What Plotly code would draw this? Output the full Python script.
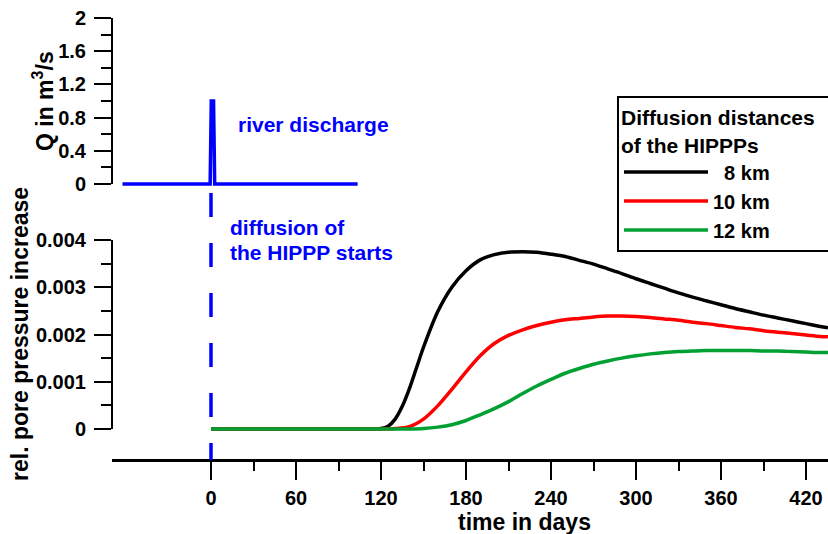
import plotly.graph_objects as go

W, H = 828, 534

# ---------------- data ----------------
q_days = [-62.5, -0.6, 0.2, 1.8, 2.6, 103.5]
q_vals = [0, 0, 1.0, 1.0, 0, 0]

days_8 = [0, 110, 115, 120, 125, 130, 135, 140, 145, 150, 160, 170, 180, 190, 200, 210, 220, 230,
          240, 250, 260, 270, 280, 290, 300, 310, 320, 330, 340, 350, 360, 370, 380, 390, 400,
          410, 420, 430, 435.5]
p_8 = [0, 0, 0, 0.00001, 0.00006, 0.00021, 0.00048, 0.00085, 0.00129, 0.00173, 0.00248, 0.00300,
       0.00335, 0.00358, 0.00369, 0.00374, 0.00375, 0.00374, 0.00370, 0.00365, 0.00357, 0.00349,
       0.00339, 0.00329, 0.00318, 0.00308, 0.00298, 0.00288, 0.00279, 0.00271, 0.00263, 0.00255,
       0.00248, 0.00241, 0.00235, 0.00229, 0.00223, 0.00217, 0.00214]

days_10 = [0, 110, 120, 130, 140, 150, 160, 170, 180, 190, 200, 210, 220, 230, 240, 250, 260,
           270, 280, 290, 300, 310, 320, 330, 340, 350, 360, 370, 380, 390, 400, 410, 420, 430, 435.5]
p_10 = [0, 0, 0, 0.00001, 0.00005, 0.00021, 0.00049, 0.00084, 0.00121, 0.00155, 0.00181,
        0.00198, 0.00210, 0.00219, 0.00226, 0.00231, 0.00234, 0.00237, 0.00239, 0.00239, 0.00238,
        0.00236, 0.00233, 0.00230, 0.00226, 0.00223, 0.00219, 0.00215, 0.00212, 0.00208, 0.00205,
        0.00202, 0.00199, 0.00196, 0.00195]

days_12 = [0, 120, 130, 140, 150, 160, 170, 180, 190, 200, 210, 220, 230, 240, 250, 260,
           270, 280, 290, 300, 310, 320, 330, 340, 350, 360, 370, 380, 390, 400, 410, 420, 430, 435.5]
p_12 = [0, 0, 0, 0, 0.00001, 0.00004, 0.00009, 0.00018, 0.00030, 0.00043, 0.00058, 0.00075,
        0.00091, 0.00105, 0.00118, 0.00128, 0.00137, 0.00144, 0.00150, 0.00155, 0.00159, 0.00162,
        0.00164, 0.00165, 0.00166, 0.00166, 0.00166, 0.00166, 0.00165, 0.00165, 0.00164, 0.00163,
        0.00162, 0.00162]

series_names = ["\u00a0\u00a08 km", "10 km", "12 km"]
series_colors = ["#000000", "#ff0000", "#00a032"]

x_tickvals = [0, 60, 120, 180, 240, 300, 360, 420]
x_minor = [30, 90, 150, 210, 270, 330, 390]
p_tickvals = [0, 0.001, 0.002, 0.003, 0.004]
p_ticktext = ["0", "0.001", "0.002", "0.003", "0.004"]
p_minor = [0.0005, 0.0015, 0.0025, 0.0035]
q_tickvals = [0, 0.4, 0.8, 1.2, 1.6, 2.0]
q_ticktext = ["0", "0.4", "0.8", "1.2", "1.6", "2"]
q_minor = [0.2, 0.6, 1.0, 1.4, 1.8]

# ---------------- layout helpers ----------------
def fy(p):
    return 1 - p / H

def fx(p):
    return p / W

FONT = "Liberation Sans, Arial, sans-serif"
BLUE = "#0000ff"

# x axis pixel mapping
x0_px, px_per_day = 211.0, 85.0 / 60.0
x_left_px = 112.0
x_range = [(x_left_px - x0_px) / px_per_day, (W - x0_px) / px_per_day]

# bottom panel: 0 -> 429 px, 0.004 -> 240 px
p_scale = (429 - 240) / 0.004
p_pad = 0.00012
p_dom = [fy(429 + p_pad * p_scale), fy(240 - p_pad * p_scale)]
# top panel: 0 -> 184 px, 2 -> 18 px
q_scale = (184 - 18) / 2.0
q_pad = 0.07
q_dom = [fy(184 + q_pad * q_scale), fy(18 - q_pad * q_scale)]

fig = go.Figure()

fig.add_trace(go.Scatter(x=q_days, y=q_vals, mode="lines", xaxis="x", yaxis="y2",
                         line=dict(color=BLUE, width=3.5), showlegend=False))

for d, v, n, c in zip([days_8, days_10, days_12], [p_8, p_10, p_12], series_names, series_colors):
    fig.add_trace(go.Scatter(x=d, y=v, mode="lines", name=n, xaxis="x", yaxis="y",
                             line=dict(color=c, width=3.5, shape="spline", smoothing=0.8)))

# helper (invisible) subplot that carries the time axis at its own height
fig.add_trace(go.Scatter(x=[], y=[], xaxis="x", yaxis="y3", showlegend=False, hoverinfo="skip"))

tickfont = dict(family=FONT, size=20, color="black", weight="bold")

fig.update_layout(
    width=W, height=H,
    margin=dict(l=0, r=0, t=0, b=0, pad=0, autoexpand=False),
    paper_bgcolor="white", plot_bgcolor="white",
    font=dict(family=FONT, size=20, color="black", weight="bold"),
    xaxis=dict(domain=[fx(x_left_px), 1.0], range=x_range, anchor="y3",
               showline=True, linecolor="black", linewidth=2.5, showgrid=False, zeroline=False,
               ticks="outside", ticklen=18, tickwidth=2, tickcolor="black",
               tickmode="array", tickvals=x_tickvals, tickfont=tickfont, ticklabelstandoff=1,
               minor=dict(tickmode="array", tickvals=x_minor, ticks="outside", ticklen=9,
                          tickwidth=2, tickcolor="black")),
    yaxis=dict(domain=p_dom, range=[-p_pad, 0.004 + p_pad], anchor="x",
               showline=False, showgrid=False, zeroline=False,
               ticks="outside", ticklen=17, tickwidth=2, tickcolor="black",
               tickmode="array", tickvals=p_tickvals, ticktext=p_ticktext, tickfont=tickfont,
               ticklabelstandoff=4,
               minor=dict(tickmode="array", tickvals=p_minor, ticks="outside", ticklen=10,
                          tickwidth=2, tickcolor="black")),
    yaxis2=dict(domain=q_dom, range=[-q_pad, 2 + q_pad], anchor="x",
                showline=False, showgrid=False, zeroline=False,
                ticks="outside", ticklen=17, tickwidth=2, tickcolor="black",
                tickmode="array", tickvals=q_tickvals, ticktext=q_ticktext, tickfont=tickfont,
                ticklabelstandoff=4,
                minor=dict(tickmode="array", tickvals=q_minor, ticks="outside", ticklen=10,
                           tickwidth=2, tickcolor="black")),
    yaxis3=dict(domain=[fy(459), fy(445)], range=[0, 1], anchor="x", visible=False,
                showgrid=False, zeroline=False),
    legend=dict(x=fx(617), y=fy(96), xanchor="left", yanchor="top",
                bgcolor="white", bordercolor="black", borderwidth=2,
                font=dict(family=FONT, size=20, color="black", weight="bold"),
                title=dict(text="Diffusion distances\u00a0\u00a0\u00a0<br>of the HIPPPs",
                           font=dict(family=FONT, size=21, color="black", weight="bold")),
                itemwidth=84, tracegroupgap=0),
)

# axis lines (spanning only the value range, as in the reference)
fig.add_shape(type="line", xref="paper", yref="y", x0=fx(x_left_px), x1=fx(x_left_px),
              y0=0, y1=0.004, line=dict(color="black", width=2))
fig.add_shape(type="line", xref="paper", yref="y2", x0=fx(x_left_px), x1=fx(x_left_px),
              y0=0, y1=2, line=dict(color="black", width=2))
# start of diffusion marker at day 0
fig.add_shape(type="line", xref="x", yref="paper", x0=0, x1=0, y0=fy(193), y1=fy(460),
              line=dict(color=BLUE, width=3.5, dash="24px,26px"))

def ann(text, x, y, size, color="black", angle=0, xanchor="center"):
    fig.add_annotation(text=text, xref="paper", yref="paper", x=fx(x), y=fy(y),
                       xanchor=xanchor, yanchor="middle", showarrow=False, textangle=angle,
                       font=dict(family=FONT, size=size, color=color, weight="bold"))

ann("river discharge", 236, 124, 21, BLUE, xanchor="left")
ann("diffusion of", 228, 227, 21, BLUE, xanchor="left")
ann("the HIPPP starts", 228, 252, 21, BLUE, xanchor="left")
ann("rel. pore pressure increase", 20, 334, 23, angle=-90)
ann("Q in m<sup>3</sup>/s", 43, 101, 23, angle=-90)
ann("time in days", 524, 522, 23)

fig.write_html("out.html")
